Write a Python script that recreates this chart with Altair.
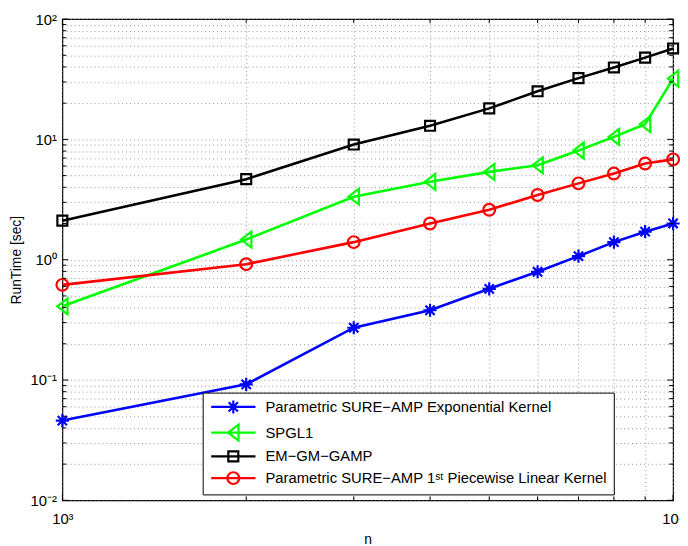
import altair as alt
import pandas as pd

# ---------------- data ----------------
n_values = [1000, 2000, 3000, 4000, 5000, 6000, 7000, 8000, 9000, 10000]

series_names = [
    "Parametric SURE\u2212AMP Exponential Kernel",
    "SPGL1",
    "EM\u2212GM\u2212GAMP",
    "Parametric SURE\u2212AMP 1\u02e2\u1d57 Piecewise Linear Kernel",
]
series_colors = ["#0000ff", "#00ff00", "#000000", "#ff0000"]

runtime_exp_kernel = [0.046, 0.092, 0.272, 0.38, 0.573, 0.794, 1.07, 1.40, 1.71, 2.0]
runtime_spgl1 = [0.41, 1.47, 3.34, 4.44, 5.37, 6.09, 8.08, 10.5, 13.4, 32.0]
runtime_em_gm_gamp = [2.11, 4.67, 9.06, 12.97, 18.1, 25.1, 32.3, 39.6, 47.8, 57.0]
runtime_pwl_kernel = [0.618, 0.918, 1.40, 2.0, 2.60, 3.45, 4.31, 5.2, 6.3, 6.82]

x_major_ticks = [1000, 10000]
x_minor_ticks = [2000, 3000, 4000, 5000, 6000, 7000, 8000, 9000]
y_major_ticks = [0.01, 0.1, 1, 10, 100]
y_minor_ticks = [0.02, 0.03, 0.04, 0.05, 0.06, 0.07, 0.08, 0.09,
                 0.2, 0.3, 0.4, 0.5, 0.6, 0.7, 0.8, 0.9,
                 2, 3, 4, 5, 6, 7, 8, 9,
                 20, 30, 40, 50, 60, 70, 80, 90]
x_tick_labels = {1000: "10\u00b3", 10000: "10\u2074"}
y_tick_labels = {0.01: "10\u207b\u00b2", 0.1: "10\u207b\u00b9", 1: "10\u2070",
                 10: "10\u00b9", 100: "10\u00b2"}

x_title = "n"
y_title = "RunTime [sec]"

# ---------------- build tables ----------------
all_series = [runtime_exp_kernel, runtime_spgl1, runtime_em_gm_gamp, runtime_pwl_kernel]
rows = []
for k, (name, vals) in enumerate(zip(series_names, all_series)):
    for n, v in zip(n_values, vals):
        rows.append({"n": n, "runtime": v, "series": name, "order": k})
df = pd.DataFrame(rows)

W, H = 618, 487
FONT = "Liberation Sans, Arial, Helvetica, sans-serif"


def label_expr(mapping):
    expr = "''"
    for val, txt in mapping.items():
        expr = f"abs(datum.value - {val}) < {val}*1e-6 ? '{txt}' : ({expr})"
    return expr


x_scale = alt.Scale(type="log", domain=[1000, 10000], nice=False)
y_scale = alt.Scale(type="log", domain=[0.01, 100], nice=False)

x_axis = alt.Axis(
    values=x_major_ticks + x_minor_ticks,
    labelExpr=label_expr(x_tick_labels),
    title=x_title,
    grid=True, ticks=False, domain=False,
    labelPadding=11, labelFontSize=15, labelColor="black", labelFont=FONT,
    labelOverlap=False, labelFlush=False,
    titleFontSize=14, titleFontWeight="normal", titleColor="black",
    titleFont=FONT, titlePadding=7,
)
y_axis = alt.Axis(
    values=y_major_ticks + y_minor_ticks,
    labelExpr=label_expr(y_tick_labels),
    title=y_title,
    grid=True, ticks=False, domain=False,
    labelPadding=6, labelFontSize=15, labelColor="black", labelFont=FONT,
    labelOverlap=False, labelFlush=False,
    titleFontSize=14, titleFontWeight="normal", titleColor="black",
    titleFont=FONT, titlePadding=7,
)

x_enc = alt.X("n:Q", scale=x_scale, axis=x_axis)
y_enc = alt.Y("runtime:Q", scale=y_scale, axis=y_axis)

marker_paths = [
    "M-0.95,0L0.95,0M0,-0.95L0,0.95M-0.67,-0.67L0.67,0.67M-0.67,0.67L0.67,-0.67",
    "M-0.75,0L0.75,-1.15L0.75,1.15Z",
    "M-0.72,-0.72L0.72,-0.72L0.72,0.72L-0.72,0.72Z",
    "M0.85,0A0.85,0.85,0,1,1,-0.85,0A0.85,0.85,0,1,1,0.85,0Z",
]
legend_paths = [p + "M-3.2,0L3.2,0" for p in marker_paths]

color_scale = alt.Scale(domain=series_names, range=series_colors)

lines = alt.Chart(df).mark_line(strokeWidth=2.6).encode(
    x=x_enc, y=y_enc,
    color=alt.Color("series:N", scale=color_scale, legend=None),
    order=alt.Order("n:Q"),
)

points = alt.Chart(df).mark_point(filled=False, size=196, strokeWidth=2.2, opacity=1).encode(
    x=x_enc, y=y_enc,
    color=alt.Color("series:N", scale=color_scale, legend=None),
    shape=alt.Shape("series:N", scale=alt.Scale(domain=series_names, range=marker_paths), legend=None),
)

leg = alt.Legend(
    orient="none", legendX=142, legendY=378, title=None,
    padding=6, rowPadding=2, symbolSize=196, symbolStrokeWidth=2.2,
    symbolOffset=16.5, labelOffset=24, labelFontSize=15, labelFont=FONT,
    labelColor="black", labelLimit=800, strokeColor="black", fillColor="white",
    symbolOpacity=1,
)
legend_layer = alt.Chart(df).transform_filter("false").mark_point(
    filled=False, size=196, strokeWidth=2.2, opacity=1
).encode(
    x=x_enc, y=y_enc,
    color=alt.Color("series:N", scale=color_scale, legend=leg),
    shape=alt.Shape("series:N", scale=alt.Scale(domain=series_names, range=legend_paths), legend=leg),
)

# inward axis ticks on all four sides
tx_major = pd.DataFrame({"n": x_major_ticks})
tx_minor = pd.DataFrame({"n": x_minor_ticks})
ty_major = pd.DataFrame({"runtime": y_major_ticks})
ty_minor = pd.DataFrame({"runtime": y_minor_ticks})
tick_layers = []
for data, length in [(tx_major, 6), (tx_minor, 4)]:
    tick_layers.append(alt.Chart(data).mark_rule(color="black", strokeWidth=1).encode(
        x=x_enc, y=alt.value(H), y2=alt.value(H - length)))
    tick_layers.append(alt.Chart(data).mark_rule(color="black", strokeWidth=1).encode(
        x=x_enc, y=alt.value(0), y2=alt.value(length)))
for data, length in [(ty_major, 6), (ty_minor, 4)]:
    tick_layers.append(alt.Chart(data).mark_rule(color="black", strokeWidth=1).encode(
        y=y_enc, x=alt.value(0), x2=alt.value(length)))
    tick_layers.append(alt.Chart(data).mark_rule(color="black", strokeWidth=1).encode(
        y=y_enc, x=alt.value(W), x2=alt.value(W - length)))

chart = alt.layer(lines, points, *tick_layers, legend_layer).resolve_scale(
    color="independent", shape="independent"
).properties(
    width=W, height=H,
    autosize=alt.AutoSizeParams(type="none"),
    padding={"left": 55, "top": 8, "right": 7, "bottom": 43},
    background="white",
).configure_view(
    stroke="black", strokeWidth=1.2
).configure_axis(
    gridColor="#8a8a8a", gridDash=[1, 3], gridWidth=1, gridOpacity=0.9,
)

chart.save("out.html", embed_options={"renderer": "svg", "actions": False})
